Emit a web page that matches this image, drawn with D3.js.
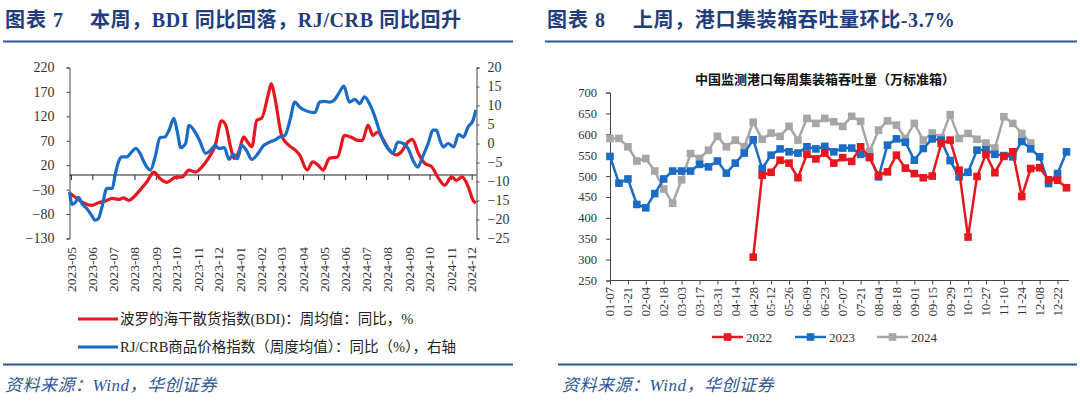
<!DOCTYPE html>
<html><head><meta charset="utf-8">
<script src="https://cdn.jsdelivr.net/npm/d3@7"></script>
<style>
body{margin:0;background:#fff;}
svg{display:block;}
</style></head><body>
<svg id="c" width="1080" height="412"></svg>
<script>
// ---------- Left chart data ----------
const bdiDates = ["2023-04-29","2023-05-07","2023-05-17","2023-05-31","2023-06-10","2023-06-20","2023-06-30","2023-07-09","2023-07-16","2023-07-24","2023-07-31","2023-08-09","2023-08-19","2023-08-29","2023-09-07","2023-09-17","2023-09-29","2023-10-09","2023-10-19","2023-10-28","2023-11-07","2023-11-16","2023-11-26","2023-12-05","2023-12-11","2023-12-18","2023-12-23","2023-12-30","2024-01-06","2024-01-10","2024-01-18","2024-01-25","2024-02-01","2024-02-11","2024-02-15","2024-02-20","2024-03-01","2024-03-11","2024-03-20","2024-03-27","2024-04-07","2024-04-15","2024-04-23","2024-04-30","2024-05-09","2024-05-21","2024-05-31","2024-06-10","2024-06-19","2024-06-26","2024-07-04","2024-07-11","2024-07-18","2024-07-25","2024-08-04","2024-08-14","2024-08-21","2024-08-31","2024-09-06","2024-09-15","2024-09-24","2024-10-04","2024-10-14","2024-10-23","2024-11-02","2024-11-09","2024-11-17","2024-11-26","2024-12-03","2024-12-07"];
const bdiValues = [-37,-45,-55,-62,-57,-53,-48,-50,-47,-52,-45,-31,-14,6,-7,-15,-5,-4,10,6,17,34,61,111,102,58,34,47,78,71,58,112,116,167,187,160,81,61,52,41,10,27,20,10,34,37,81,77,71,71,102,81,88,75,51,41,47,68,73,44,24,17,-7,-21,-4,-11,-4,-24,-52,-58];
const crbDates = ["2023-04-29","2023-05-03","2023-05-08","2023-05-12","2023-05-17","2023-05-24","2023-05-31","2023-06-05","2023-06-10","2023-06-15","2023-06-22","2023-06-30","2023-07-04","2023-07-09","2023-07-14","2023-07-21","2023-07-28","2023-08-03","2023-08-09","2023-08-16","2023-08-24","2023-08-31","2023-09-07","2023-09-14","2023-09-20","2023-09-27","2023-10-02","2023-10-07","2023-10-14","2023-10-19","2023-10-26","2023-11-03","2023-11-12","2023-11-19","2023-11-26","2023-12-01","2023-12-09","2023-12-16","2023-12-22","2023-12-28","2024-01-03","2024-01-10","2024-01-18","2024-01-27","2024-02-04","2024-02-13","2024-02-20","2024-02-27","2024-03-06","2024-03-13","2024-03-20","2024-03-27","2024-04-03","2024-04-11","2024-04-18","2024-04-25","2024-05-02","2024-05-09","2024-05-16","2024-05-24","2024-05-30","2024-06-07","2024-06-15","2024-06-22","2024-06-29","2024-07-06","2024-07-14","2024-07-21","2024-07-28","2024-08-04","2024-08-09","2024-08-16","2024-08-24","2024-08-31","2024-09-07","2024-09-14","2024-09-21","2024-09-29","2024-10-06","2024-10-11","2024-10-16","2024-10-21","2024-10-28","2024-11-05","2024-11-12","2024-11-19","2024-11-26","2024-12-03","2024-12-07"];
const crbValues = [-12.7,-16,-15.4,-14.2,-15.8,-17.1,-18.9,-20.2,-19.7,-16.7,-11.8,-11.8,-8.3,-4.8,-3.5,-3.5,-2.2,-1.3,-2.6,-5.3,-7,-3.5,1.6,1.7,3.5,6.6,3.1,-1.1,0,4.8,3.5,0.9,-2.6,-1.8,-0.5,-1.3,-1.1,-4.2,-2.8,-4,-0.5,-1.8,-4.2,-2.6,-0.5,0.4,0.9,1.7,2.2,6.1,10.9,9.6,8.8,8.3,8.1,10.9,11.1,10.9,11.4,13.6,15.1,10.9,11.6,10.5,12.3,10.5,7,3.1,0,-1.8,-2.6,0.4,0,-1.3,-4.4,-6.2,-3.5,0,3.5,3.5,0.9,-0.9,0,-0.9,2.4,1.7,4.4,6.1,8.8];
const leftTicks = [220,170,120,70,20,-30,-80,-130];
const rightTicks = [20,15,10,5,0,-5,-10,-15,-20,-25];
const leftLegend = ["波罗的海干散货指数(BDI)：周均值：同比，%","RJ/CRB商品价格指数（周度均值）：同比（%），右轴"];

// ---------- Right chart data ----------
const weeks = ["01-07","01-14","01-21","01-28","02-04","02-11","02-18","02-25","03-03","03-10","03-17","03-24","03-31","04-07","04-14","04-21","04-28","05-05","05-12","05-19","05-26","06-02","06-09","06-16","06-23","06-30","07-07","07-14","07-21","07-28","08-04","08-11","08-18","08-25","09-01","09-08","09-15","09-22","09-29","10-06","10-13","10-20","10-27","11-03","11-10","11-17","11-24","12-01","12-08","12-15","12-22","12-29"];
const s2022 = [null,null,null,null,null,null,null,null,null,null,null,null,null,null,null,null,306,502,509,538,531,496,552,541,555,531,544,535,570,544,502,510,550,519,506,496,500,578,586,514,354,499,552,508,547,558,451,518,520,491,490,472];
const s2023 = [547,483,493,432,424,458,493,512,512,512,528,522,536,507,531,555,587,518,550,565,558,555,570,565,571,558,567,567,552,546,498,574,589,581,538,566,589,586,537,498,509,562,563,552,549,546,583,565,546,482,506,558];
const s2024 = [590,590,570,536,542,512,469,435,491,554,542,562,595,570,586,570,629,588,603,595,619,586,638,626,638,630,619,643,631,558,610,632,622,590,626,586,603,592,647,590,602,588,579,567,642,626,602,579,null,null,null,null];
const rightTicksY = [700,650,600,550,500,450,400,350,300,250];
const seriesNames = ["2022","2023","2024"];

const SERIF = "'Liberation Serif','Times New Roman',serif";
const CJK = "'Liberation Serif','Noto Sans CJK SC',serif";
const NAVY = "#1f3d7a";
const RULE = "#2f5597";
const RED = "#e8161e";
const BLUE = "#1a6cc4";
const GRAY = "#a6a6a6";
const AX = "#444";

const svg = d3.select("#c");
const parse = d3.timeParse("%Y-%m-%d");

// ---------- Titles & rules ----------
function header(x0, x1, num, text, textX) {
  svg.append("text").attr("x", x0 + 2).attr("y", 27)
    .attr("fill", NAVY).attr("font-weight", "bold").attr("font-size", 20)
    .attr("font-family", CJK).attr("letter-spacing", 1).text("图表 " + num);
  svg.append("text").attr("x", textX).attr("y", 27)
    .attr("fill", NAVY).attr("font-weight", "bold").attr("font-size", 20)
    .attr("font-family", CJK).attr("letter-spacing", 0.6).text(text);
  svg.append("line").attr("x1", x0).attr("x2", x1).attr("y1", 41.5).attr("y2", 41.5)
    .attr("stroke", RULE).attr("stroke-width", 2);
}
header(3, 513, "7", "本周，BDI 同比回落，RJ/CRB 同比回升", 90);
header(545, 1077, "8", "上周，港口集装箱吞吐量环比-3.7%", 633);

function footer(x0, x1, tx) {
  svg.append("line").attr("x1", x0).attr("x2", x1).attr("y1", 364.5).attr("y2", 364.5)
    .attr("stroke", RULE).attr("stroke-width", 2);
  svg.append("text").attr("x", tx).attr("y", 391).attr("fill", RULE)
    .attr("font-size", 17).attr("font-style", "italic").attr("font-family", CJK)
    .attr("letter-spacing", 0.5)
    .text("资料来源：Wind，华创证券");
}
footer(3, 513, 5);
footer(558, 1077, 562);

// ---------- Left chart ----------
const xL = d3.scaleTime().domain([parse("2023-04-29"), parse("2024-12-08")]).range([69.5, 476.5]);
const yL = d3.scaleLinear().domain([-130, 220]).range([238.5, 67.5]);
const yR = d3.scaleLinear().domain([-25, 20]).range([238.5, 67.5]);

const gL = svg.append("g");
const axL = gL.append("g").attr("transform", "translate(69.5,0)")
  .call(d3.axisLeft(yL).tickValues(leftTicks).tickSize(3).tickPadding(12));
axL.select(".domain").attr("stroke", AX);
axL.selectAll(".tick line").attr("stroke", AX);
axL.selectAll("text").attr("font-family", SERIF).attr("font-size", 14).attr("fill", "#333");
const axR = gL.append("g").attr("transform", "translate(476.5,0)")
  .call(d3.axisRight(yR).tickValues(rightTicks).tickSize(3).tickPadding(8));
axR.select(".domain").attr("stroke", AX);
axR.selectAll(".tick line").attr("stroke", AX);
axR.selectAll("text").attr("font-family", SERIF).attr("font-size", 14).attr("fill", "#333");
const months = d3.timeMonth.range(parse("2023-05-01"), parse("2024-12-02"));
const axX = gL.append("g").attr("transform", `translate(0,${yL(0)})`)
  .call(d3.axisBottom(xL).tickValues(months).tickSize(5).tickFormat(""));
axX.select(".domain").attr("stroke", "#222").attr("d", `M69.5,0H476.5`);
axX.selectAll(".tick line").attr("stroke", "#222");
gL.append("g").selectAll("text").data(months).join("text")
  .attr("transform", d => `translate(${xL(d)},247) rotate(-90)`)
  .attr("dy", "0.35em").attr("text-anchor", "end")
  .attr("font-family", SERIF).attr("font-size", 13.5).attr("fill", "#333")
  .text(d3.timeFormat("%Y-%m"));

const bdi = bdiDates.map((d, i) => ({ x: parse(d), y: bdiValues[i] }));
const crb = crbDates.map((d, i) => ({ x: parse(d), y: crbValues[i] }));
gL.append("path").datum(bdi)
  .attr("d", d3.line().x(d => xL(d.x)).y(d => yL(d.y)).curve(d3.curveMonotoneX))
  .attr("fill", "none").attr("stroke", RED).attr("stroke-width", 3.2).attr("stroke-linejoin", "round");
gL.append("path").datum(crb)
  .attr("d", d3.line().x(d => xL(d.x)).y(d => yR(d.y)).curve(d3.curveMonotoneX))
  .attr("fill", "none").attr("stroke", BLUE).attr("stroke-width", 3.2).attr("stroke-linejoin", "round");

[RED, BLUE].forEach((c, i) => {
  const y = 319 + i * 28;
  gL.append("line").attr("x1", 78).attr("x2", 118).attr("y1", y).attr("y2", y)
    .attr("stroke", c).attr("stroke-width", 3);
  gL.append("text").attr("x", 120).attr("y", y).attr("dy", "0.35em")
    .attr("font-family", CJK).attr("font-size", 14.5).attr("fill", "#222").text(leftLegend[i]);
});

// ---------- Right chart ----------
const xW = d3.scalePoint().domain(weeks).range([610, 1066.5]);
const yW = d3.scaleLinear().domain([250, 700]).range([280.5, 92.5]);
const gR = svg.append("g");
gR.append("text").attr("x", 825).attr("y", 79).attr("dy", "0.35em").attr("text-anchor", "middle")
  .attr("font-family", "'Noto Sans CJK SC',sans-serif").attr("font-weight", "bold").attr("font-size", 13)
  .attr("fill", "#111").text("中国监测港口每周集装箱吞吐量（万标准箱）");

const ayW = gR.append("g").attr("transform", "translate(610,0)")
  .call(d3.axisLeft(yW).tickValues(rightTicksY).tickSize(4).tickPadding(9));
ayW.select(".domain").attr("stroke", AX);
ayW.selectAll(".tick line").attr("stroke", AX);
ayW.selectAll("text").attr("font-family", SERIF).attr("font-size", 12.5).attr("fill", "#333");

const labeled = weeks.filter((w, i) => i % 2 === 0);
const axW = gR.append("g").attr("transform", "translate(0,280.5)")
  .call(d3.axisBottom(xW).tickValues(labeled).tickSize(4).tickFormat(""));
axW.select(".domain").attr("stroke", AX).attr("d", "M610,0H1069");
axW.selectAll(".tick line").attr("stroke", AX);
gR.append("g").selectAll("text").data(labeled).join("text")
  .attr("transform", d => `translate(${xW(d)},287) rotate(-90)`)
  .attr("dy", "0.35em").attr("text-anchor", "end")
  .attr("font-family", SERIF).attr("font-size", 12.5).attr("fill", "#333")
  .text(d => d);

const allSeries = [s2022, s2023, s2024];
const colors = [RED, BLUE, GRAY];
[2, 1, 0].forEach(k => {
  const data = weeks.map((w, i) => ({ w, v: allSeries[k][i] }));
  const line = d3.line().defined(d => d.v != null).x(d => xW(d.w)).y(d => yW(d.v));
  gR.append("path").datum(data).attr("d", line).attr("fill", "none")
    .attr("stroke", colors[k]).attr("stroke-width", 2.5);
  gR.append("g").selectAll("rect").data(data.filter(d => d.v != null)).join("rect")
    .attr("x", d => xW(d.w) - 3.8).attr("y", d => yW(d.v) - 3.8)
    .attr("width", 7.6).attr("height", 7.6).attr("fill", colors[k]);
});

const legX = [712, 795, 877];
seriesNames.forEach((n, k) => {
  const x = legX[k], y = 337;
  gR.append("line").attr("x1", x).attr("x2", x + 31).attr("y1", y).attr("y2", y)
    .attr("stroke", colors[k]).attr("stroke-width", 2.5);
  gR.append("rect").attr("x", x + 15.5 - 3.8).attr("y", y - 3.8).attr("width", 7.6).attr("height", 7.6)
    .attr("fill", colors[k]);
  gR.append("text").attr("x", x + 34).attr("y", y).attr("dy", "0.35em")
    .attr("font-family", SERIF).attr("font-size", 13).attr("fill", "#333").text(n);
});
</script></body></html>
